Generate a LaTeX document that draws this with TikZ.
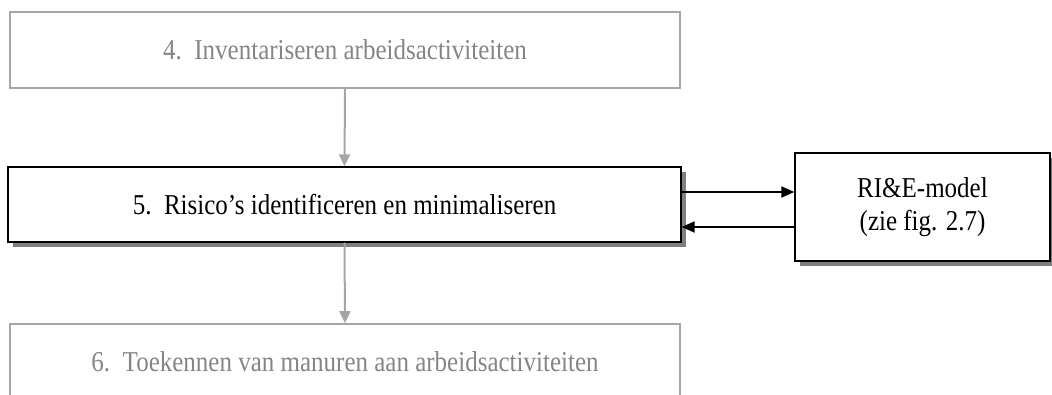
\documentclass[tikz,border=0pt]{standalone}
\usepackage{fontspec}
\setmainfont{Liberation Serif}
\usetikzlibrary{arrows.meta,shadows}
\definecolor{lightline}{HTML}{A6A6A6}
\definecolor{lighttext}{HTML}{858585}
\definecolor{shadowgray}{HTML}{7F7F7F}
\newcommand{\tall}[1]{\scalebox{1}[1.15]{#1}}
\begin{document}
\begin{tikzpicture}[x=1pt,y=1pt,
  faded/.style={draw=lightline,line width=1.6pt,text=lighttext,rectangle,font=\fontsize{25}{33}\selectfont},
  active/.style={draw=black,line width=1.3pt,fill=white,rectangle,font=\fontsize{25}{33}\selectfont,
    drop shadow={shadow xshift=5pt,shadow yshift=-5pt,fill=shadowgray,opacity=1}},
  grayarrow/.style={draw=lightline,line width=2pt,-{Triangle[length=12pt,width=11pt]}},
  blackarrow/.style={draw=black,line width=2pt,-{Triangle[length=13pt,width=11pt]}}]
\useasboundingbox (0,0) rectangle (1052,-394);
% Draw steps
\node[faded,minimum width=670,minimum height=76] (step4) at (345,-50) {\tall{4.\ \ Inventariseren arbeidsactiviteiten}};
\node[active,minimum width=673,minimum height=75] (step5) at (344.5,-204.5) {\tall{5.\ \ Risico’s identificeren en minimaliseren}};
\node[faded,minimum width=670,minimum height=76] (step6) at (345,-362) {\tall{6.\ \ Toekennen van manuren aan arbeidsactiviteiten}};
% Draw model box
\node[active,minimum width=255,minimum height=108,align=center] (model) at (922.5,-207) {\tall{RI\&E-model}\\\tall{(zie fig. 2.7)}};
% Draw flow
\draw[grayarrow] (step4.south) -- (step5.north);
\draw[grayarrow] (step5.south) -- (step6.north);
\draw[blackarrow] ([yshift=12.5pt]step5.east) -- ([yshift=12.5pt]step5.east -| model.west);
\draw[blackarrow] ([yshift=-22.5pt]step5.east -| model.west) -- ([yshift=-22.5pt]step5.east);
\end{tikzpicture}
\end{document}
